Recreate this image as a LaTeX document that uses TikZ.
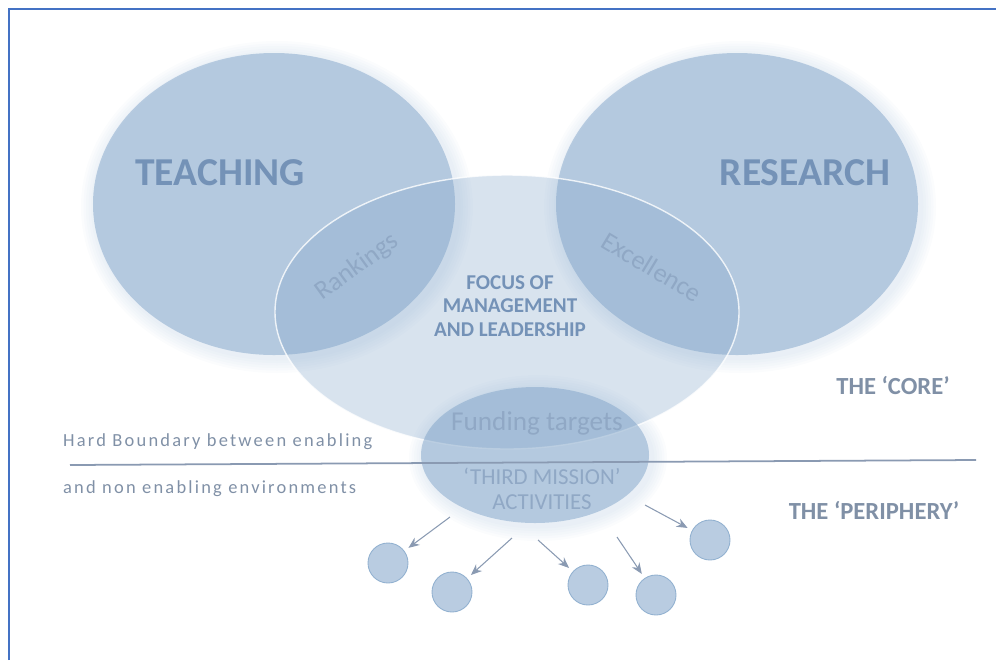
\documentclass[tikz,border=0pt]{standalone}
\usepackage{fontspec}
\setmainfont{Carlito}
\usetikzlibrary{arrows.meta,shapes.geometric}
\definecolor{discblue}{RGB}{127,163,200}
\definecolor{labelblue}{RGB}{116,146,183}
\definecolor{notegray}{RGB}{128,144,166}
\definecolor{frameblue}{RGB}{68,114,196}
\definecolor{arrowgray}{RGB}{138,154,178}
\tikzset{
  framebox/.style={draw=frameblue, line width=0.9pt},
  disc/.style={ellipse, fill=discblue, fill opacity=0.5, draw=none, inner sep=0pt},
  glow/.style={fill=discblue, fill opacity=0.03},
  focusdisc/.style={ellipse, fill=discblue, fill opacity=0.3, draw=white, draw opacity=0.8, line width=0.8pt, inner sep=0pt},
  bubble/.style={circle, minimum size=8mm, inner sep=0pt, fill=discblue!55, draw=discblue!85, line width=0.5pt},
  bigtxt/.style={text=labelblue, font=\fontsize{22.5}{26}\selectfont\bfseries},
  sidetxt/.style={text=notegray, font=\fontsize{14}{16}\selectfont\bfseries},
  notetxt/.style={text=notegray, anchor=west, font=\fontsize{10.5}{12}\selectfont\addfontfeature{LetterSpace=12}},
  tilttxt/.style={text=labelblue!80, font=\fontsize{15}{17}\selectfont},
  focustxt/.style={text=labelblue, align=center, font=\fontsize{12}{13.4}\selectfont\bfseries},
  fundtxt/.style={text=labelblue!80, align=center, font=\fontsize{13}{14.2}\selectfont},
  boundary/.style={draw=arrowgray, line width=1pt},
  farr/.style={-{Stealth[length=2.2mm,width=1.8mm]}, draw=arrowgray, line width=0.6pt, shorten >=1mm}
}
\begin{document}
\begin{tikzpicture}[x=0.2mm,y=-0.2mm]
\useasboundingbox (0,0) rectangle (996,660);
\draw[framebox] (9,660) -- (9,9) -- (996,9);

\foreach \cx/\cy/\rx/\ry in {274/204/181/151, 737/204/181/151, 535/455/114/68}
  \foreach \g in {1,...,6}
    \fill[glow] (\cx+3,\cy+3) ellipse [x radius={\rx+2.5*\g}, y radius={\ry+2.5*\g}];

\node[disc, minimum width=72.4mm, minimum height=60.4mm] (teach) at (274,204) {};
\node[disc, minimum width=72.4mm, minimum height=60.4mm] (res) at (737,204) {};
\node[focusdisc, minimum width=92.8mm, minimum height=54.8mm] (focus) at (507,312) {};
\node[disc, minimum width=45.6mm, minimum height=27.2mm] (third) at (535,455) {};

\coordinate (hbL) at (70,465);
\coordinate (hbR) at (976,460);
\draw[boundary] (hbL) -- (hbR);

\node[bigtxt] (teachlbl) at (220,173) {TEACHING};
\node[bigtxt] (reslbl) at (805,173) {RESEARCH};
\node[tilttxt, rotate=36] (rank) at (357,267) {Rankings};
\node[tilttxt, rotate=-31] (excel) at (652,267) {Excellence};
\node[focustxt] (focuslbl) at (510,306) {FOCUS OF\\MANAGEMENT\\AND LEADERSHIP};
\node[fundtxt, font=\fontsize{15.5}{17}\selectfont] (fund) at (537,423) {Funding targets};
\node[fundtxt] (thirdlbl) at (542,489) {`THIRD MISSION'\\ACTIVITIES};

\node[notetxt] (hb1) at (57,442) {Hard Boundary between enabling};
\node[notetxt] (hb2) at (57,489) {and non enabling environments};
\node[sidetxt] (core) at (893,385) {THE `CORE'};
\node[sidetxt] (peri) at (874,510) {THE `PERIPHERY'};

\node[bubble] (b1) at (388,563) {};
\node[bubble] (b2) at (452,592) {};
\node[bubble] (b3) at (588,585) {};
\node[bubble] (b4) at (656,595) {};
\node[bubble] (b5) at (710,540) {};

\coordinate (s1) at (450,517);
\coordinate (s2) at (512,538);
\coordinate (s3) at (538,540);
\coordinate (s4) at (617,537);
\coordinate (s5) at (645,505);
\draw[farr] (s1) -- (b1);
\draw[farr] (s2) -- (b2);
\draw[farr] (s3) -- (b3);
\draw[farr] (s4) -- (b4);
\draw[farr] (s5) -- (b5);
\end{tikzpicture}
\end{document}
